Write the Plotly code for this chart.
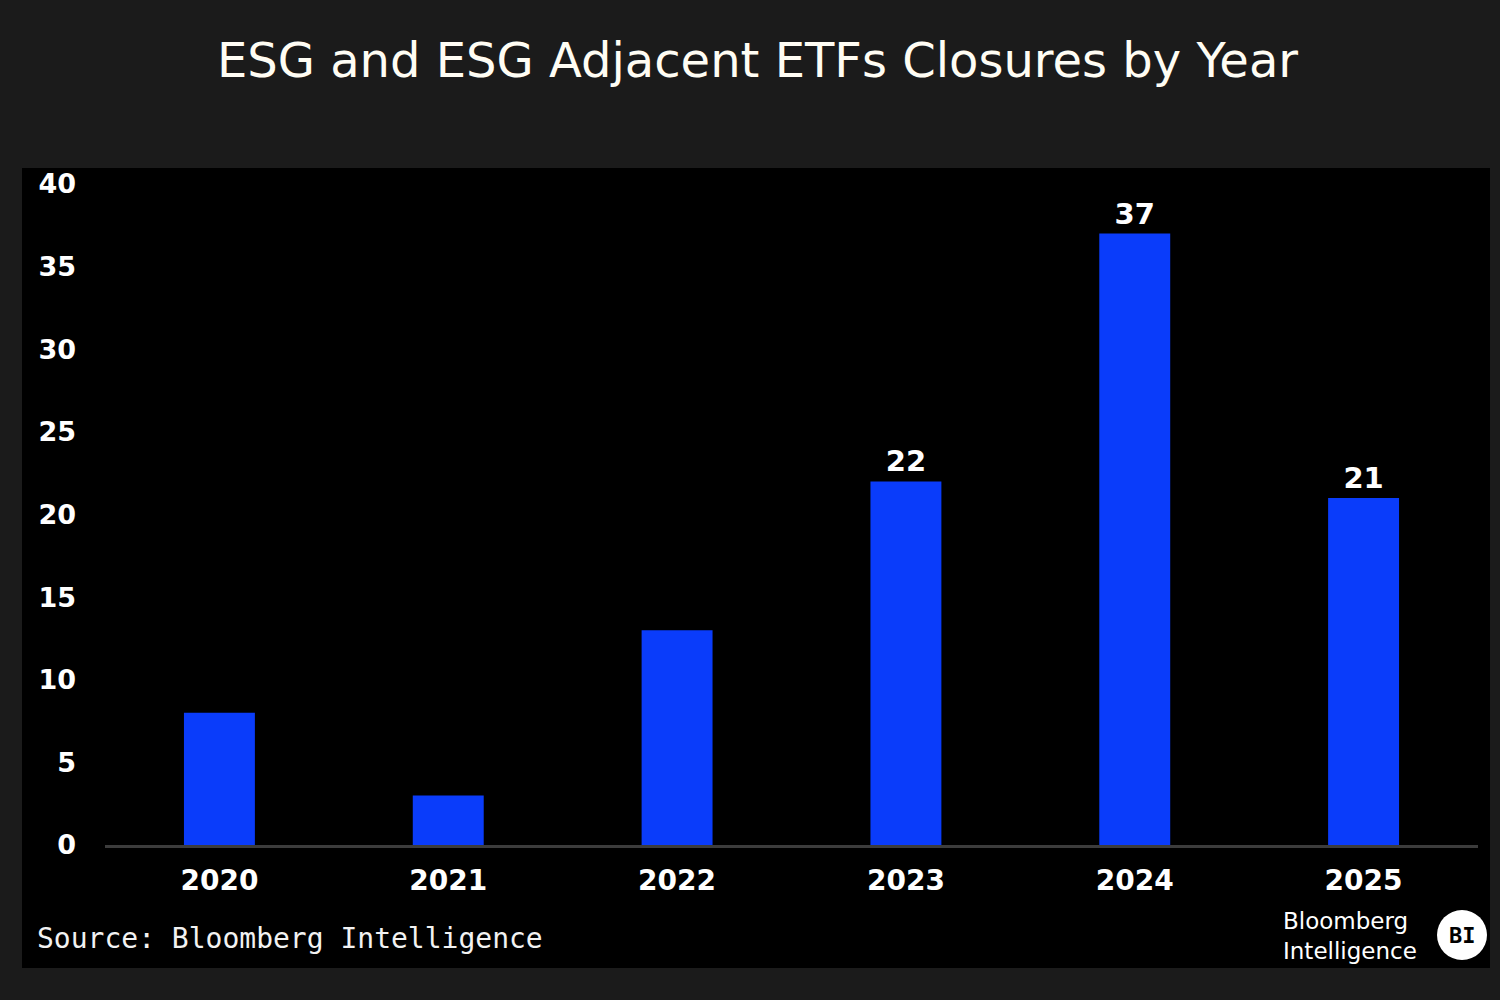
import plotly.graph_objects as go

years = ["2020", "2021", "2022", "2023", "2024", "2025"]
closures = [8, 3, 13, 22, 37, 21]
labels = ["", "", "", "22", "37", "21"]
y_ticks = [0, 5, 10, 15, 20, 25, 30, 35, 40]

W, H = 1500, 1000
L, R, T, B = 105, 22, 184, 155
pw, ph = W - L - R, H - T - B

def px_x(x):
    return (x - L) / pw

def px_y(y):
    return (H - B - y) / ph

fig = go.Figure()
fig.add_trace(go.Bar(
    x=years, y=closures,
    marker=dict(color="#0a3cfa", line=dict(width=0)),
    text=labels, textposition="outside", cliponaxis=False,
    textfont=dict(family="DejaVu Sans", size=29, color="white", weight="bold"),
    width=0.31,
))

fig.update_layout(
    width=W, height=H,
    margin=dict(l=L, r=R, t=T, b=B),
    paper_bgcolor="#1b1b1b",
    plot_bgcolor="#000000",
    showlegend=False,
    title=dict(text="ESG and ESG Adjacent ETFs Closures by Year", x=0.505, xanchor="center",
               y=1 - 60 / H, yanchor="middle",
               font=dict(family="DejaVu Sans", size=48, color="#fffdf4")),
    xaxis=dict(showgrid=False, showline=True, linecolor="#3c3c3c", linewidth=3,
               ticks="", ticklabelstandoff=8,
               tickfont=dict(family="DejaVu Sans", size=28, color="white", weight="bold")),
    yaxis=dict(range=[0, 40], tickvals=y_ticks, showgrid=False, zeroline=False,
               showline=False, ticks="", ticklabelstandoff=28,
               tickfont=dict(family="DejaVu Sans", size=27, color="white", weight="bold")),
    shapes=[
        dict(type="rect", xref="paper", yref="paper", layer="below",
             x0=px_x(22), x1=px_x(1490), y0=px_y(968), y1=px_y(168),
             fillcolor="#000000", line=dict(width=0)),
        dict(type="circle", xref="paper", yref="paper",
             x0=px_x(1437), x1=px_x(1487), y0=px_y(960), y1=px_y(910),
             fillcolor="white", line=dict(width=0)),
    ],
    annotations=[
        dict(text="Source: Bloomberg Intelligence", xref="paper", yref="paper",
             x=px_x(35), y=px_y(938), xanchor="left", yanchor="middle", showarrow=False,
             font=dict(family="DejaVu Sans Mono", size=28, color="#f2f2f2")),
        dict(text="Bloomberg<br>Intelligence", xref="paper", yref="paper",
             x=px_x(1281), y=px_y(936), xanchor="left", yanchor="middle", showarrow=False,
             align="left",
             font=dict(family="DejaVu Sans", size=23, color="white")),
        dict(text="<b>BI</b>", xref="paper", yref="paper",
             x=px_x(1462), y=px_y(935), xanchor="center", yanchor="middle", showarrow=False,
             font=dict(family="DejaVu Sans Mono", size=22, color="black")),
    ],
)

fig.write_html("out.html", config={"displayModeBar": False},
               post_script="document.body.style.margin='0';")
